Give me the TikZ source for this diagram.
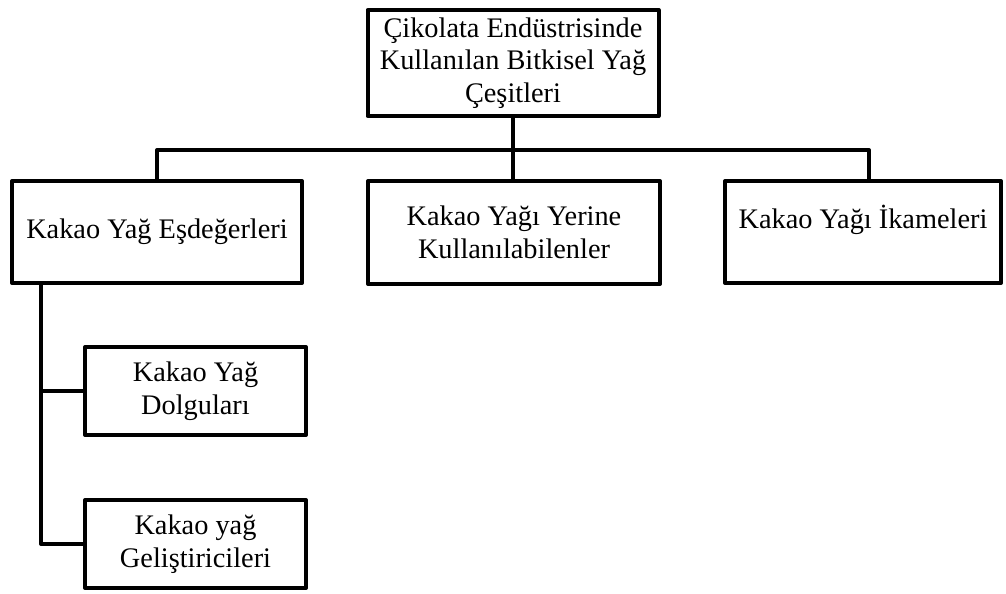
\documentclass[tikz,border=0pt]{standalone}
\usepackage{fontspec}
\setmainfont{Liberation Serif}
\usetikzlibrary{positioning}

\tikzset{kutu/.style={draw, line width=3pt, align=center, inner sep=0pt, font=\fontsize{21.25}{24.5}\selectfont}}

\begin{document}
\begin{tikzpicture}[x=0.75pt,y=-0.75pt, line join=round]
			%%%%% START %%%%%
			\useasboundingbox (0,0) rectangle (1006,593);
			
			\node[kutu, minimum width=218.25pt, minimum height=79.5pt] (ust) at (513, 63) {\c{C}ikolata End\"ustrisinde\\Kullanılan Bitkisel Yağ\\Çeşitleri};
			
			\node[kutu, minimum width=217.5pt, minimum height=76.5pt] (sol) at (157, 232) {Kakao Yağ Eşdeğerleri};
			\node[kutu, minimum width=219pt, minimum height=77.25pt] (orta) at (514, 232.5) {Kakao Yağı Yerine\\Kullanılabilenler};
			\node[kutu, minimum width=207pt, minimum height=76.5pt] (sag) at (863, 232) {Kakao Yağı İkameleri\\[-9pt]\strut};
			
			\node[kutu, minimum width=165.75pt, minimum height=66pt] (alt1) at (195.5, 391) {Kakao Yağ\\Dolguları};
			\node[kutu, minimum width=165.75pt, minimum height=66pt] (alt2) at (195.5, 544) {Kakao yağ\\Geliştiricileri};
			
			\coordinate (sagbag) at (869, 150);
			\coordinate (omurga) at (41, 0);
			
			\draw[line width=3pt] (ust.south) -- (ust.south |- orta.north);
			\draw[line width=3pt] (sol.north) |- (sagbag) -- (sagbag |- sag.north);
			
			\draw[line width=3pt] (omurga |- sol.south) -- (omurga |- alt2.west) -- (alt2.west);
			\draw[line width=3pt] (omurga |- alt1.west) -- (alt1.west);
			%%%%% END %%%%%
		\end{tikzpicture}
\end{document}
